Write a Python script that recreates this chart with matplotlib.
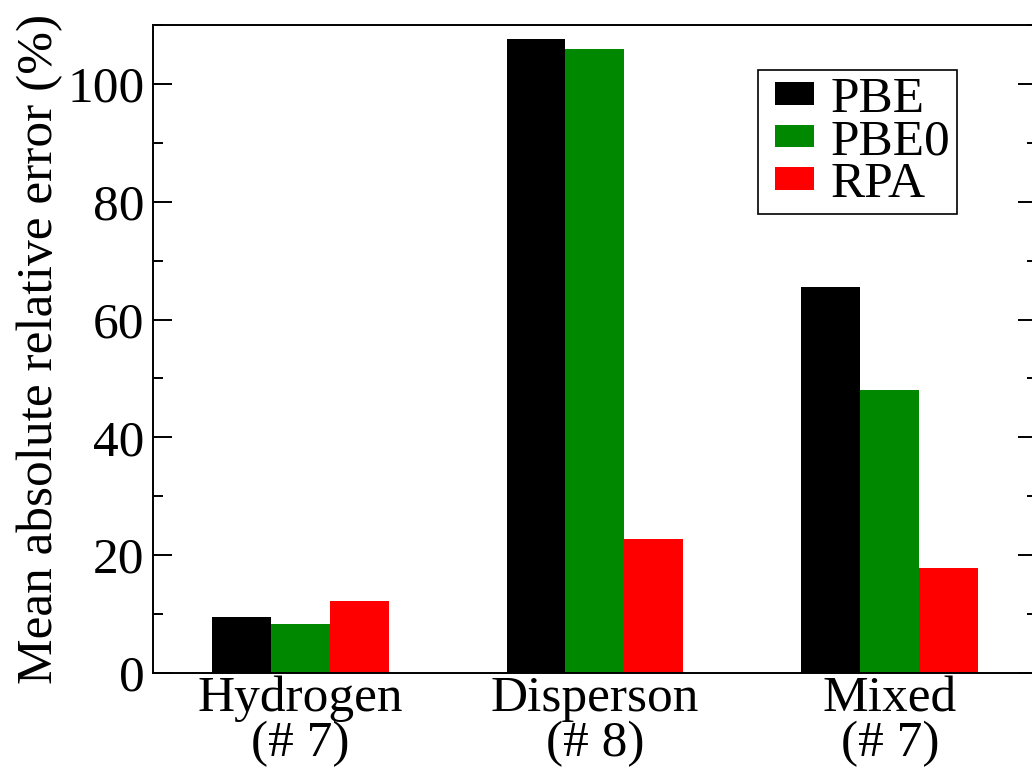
import numpy as np
import matplotlib
matplotlib.use("Agg")
import matplotlib.pyplot as plt
from matplotlib.ticker import MultipleLocator
from matplotlib.patches import Rectangle
from matplotlib.legend_handler import HandlerPatch
from matplotlib.container import BarContainer

# data
groups = ["Hydrogen\n(# 7)", "Disperson\n(# 8)", "Mixed\n(# 7)"]
methods = ["PBE", "PBE0", "RPA"]
pbe = [9.5, 107.6, 65.5]
pbe0 = [8.3, 106.0, 48.1]
rpa = [12.2, 22.7, 17.9]
colors = ["black", "#008800", "#ff0000"]

plt.rcParams["font.family"] = "serif"
plt.rcParams["font.serif"] = ["Liberation Serif", "DejaVu Serif"]
plt.rcParams["font.size"] = 37

fig = plt.figure(figsize=(10.32, 7.70), dpi=100)
ax = fig.add_axes([0.148, 0.126, 0.857, 0.8415])

x = np.arange(len(groups))
barWidth = 0.2
for i, (vals, name) in enumerate(zip([pbe, pbe0, rpa], methods)):
    ax.bar(x + (i - 1) * barWidth, vals, width=barWidth, color=colors[i],
           label=name, linewidth=0)

ax.set_xlim(-0.5, 2.5)
ax.set_ylim(0, 110)
ax.set_xticks(x)
ax.set_xticklabels(groups, linespacing=0.95)
ax.yaxis.set_major_locator(MultipleLocator(20))
ax.yaxis.set_minor_locator(MultipleLocator(10))
ax.tick_params(axis="x", length=0, pad=2)
ax.tick_params(axis="y", which="major", direction="in", length=14, width=1.4,
               right=True, pad=6)
ax.tick_params(axis="y", which="minor", direction="in", length=7, width=1.4,
               right=True)
for s in ax.spines.values():
    s.set_linewidth(1.4)

ax.set_ylabel("Mean absolute relative error (%)", fontsize=37, labelpad=3)


# small legend swatches with some room on their left
def swatch(legend, orig_handle, xdescent, ydescent, width, height, fontsize):
    off = 8
    return Rectangle((-xdescent + off, -ydescent), width - off, height)


def first_child(legend_handle, orig_handle):
    legend_handle.update_from(orig_handle[0])


leg = ax.legend(loc="upper left", bbox_to_anchor=(0.684, 0.93), fontsize=37,
                fancybox=False, edgecolor="black", framealpha=1,
                handlelength=0.97, handleheight=0.3, handletextpad=0.33,
                labelspacing=-0.08, borderpad=0.12, borderaxespad=0,
                handler_map={BarContainer: HandlerPatch(patch_func=swatch,
                                                        update_func=first_child)})
leg.get_frame().set_linewidth(1.2)

fig.savefig("out.png", dpi=100)
